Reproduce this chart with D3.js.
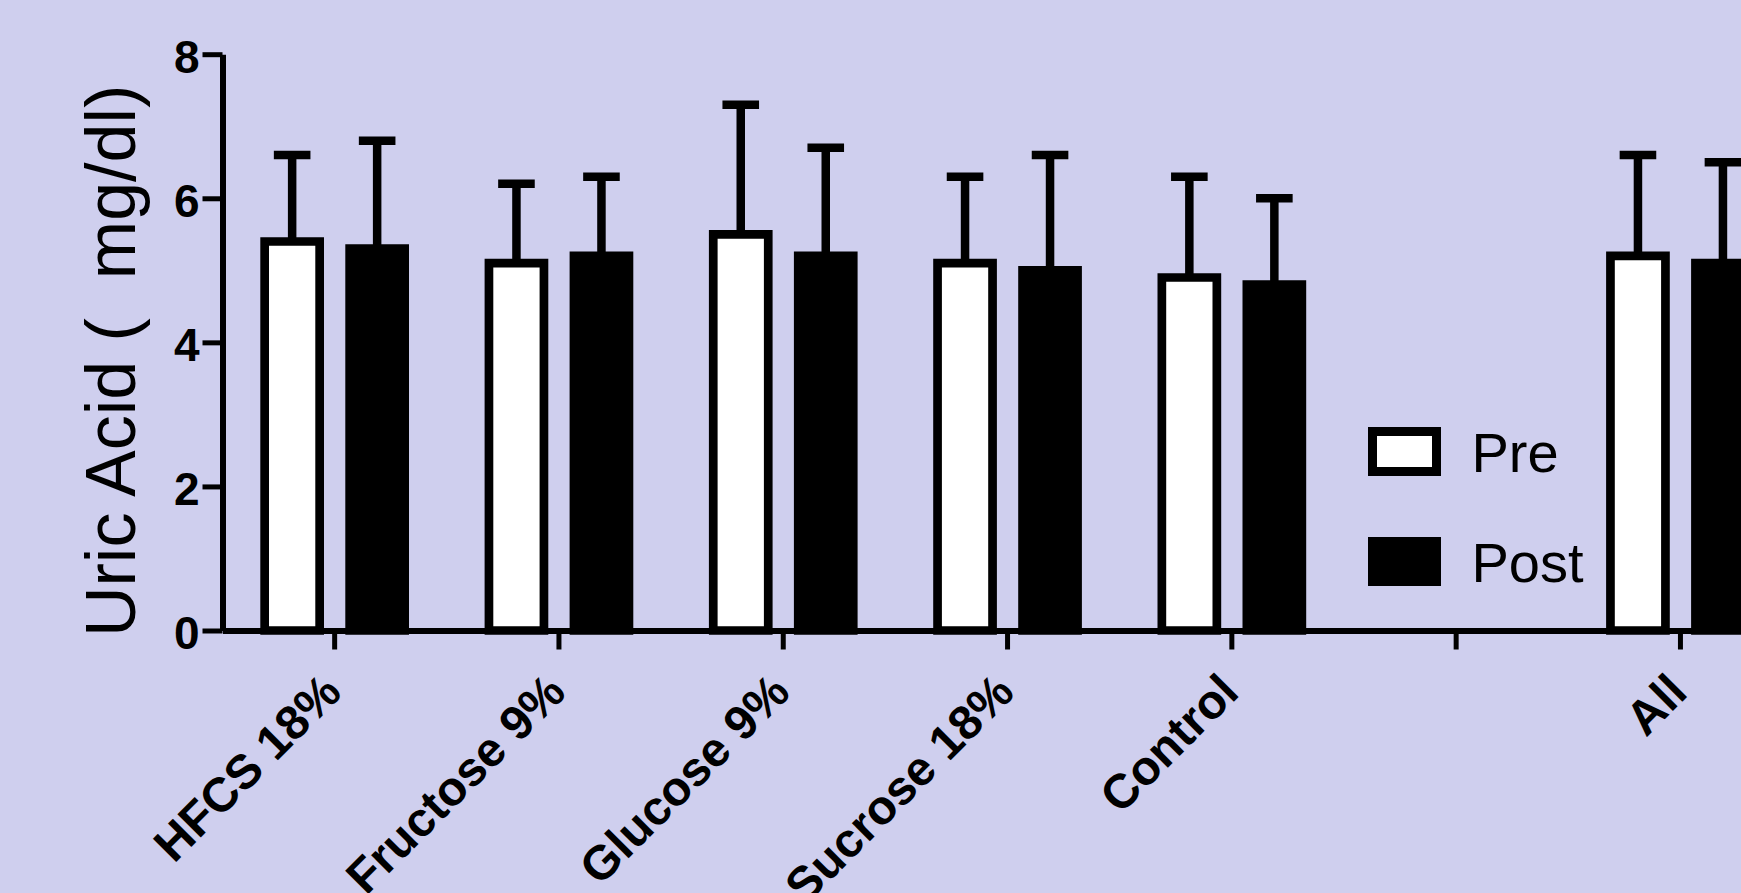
<!DOCTYPE html>
<html>
<head>
<meta charset="utf-8">
<script src="https://cdn.jsdelivr.net/npm/d3@7"></script>
<style>
  html, body { margin: 0; padding: 0; background: #cfcfee; }
  svg { display: block; font-family: "Liberation Sans", Arial, sans-serif; }
</style>
</head>
<body>
<svg id="graph"></svg>
<script>
const categories = ["HFCS 18%", "Fructose 9%", "Glucose 9%", "Sucrose 18%", "Control", "", "All"]
const series = ["Pre", "Post"]
const preMean = [5.4, 5.1, 5.5, 5.1, 4.9, null, 5.2]
const preSD = [1.2, 1.1, 1.8, 1.2, 1.4, null, 1.4]
const postMean = [5.3, 5.2, 5.2, 5.0, 4.8, null, 5.1]
const postSD = [1.5, 1.1, 1.5, 1.6, 1.2, null, 1.4]
const yTicks = [0, 2, 4, 6, 8]

const width = 1741
const height = 893
const bg = "#cfcfee"

const svg = d3.select("#graph")
  .attr("width", width)
  .attr("height", height)

svg.append("rect")
  .attr("width", width)
  .attr("height", height)
  .attr("fill", bg)

// the plot runs off the right edge of the picture, like the original
const xScale = d3.scaleBand().domain(categories).range([222.5, 222.5 + 7 * 224.3])
const xSub = d3.scaleBand().domain(series).range([-85, 85]).paddingInner(0.353).paddingOuter(0.1765)
const yScale = d3.scaleLinear().domain([0, 8]).range([630.5, 54.2])

const rows = []
categories.forEach((c, i) => {
  if (preMean[i] == null) return
  rows.push({cat: c, key: "Pre", mean: preMean[i], sd: preSD[i]})
  rows.push({cat: c, key: "Post", mean: postMean[i], sd: postSD[i]})
})

const cx = d => xScale(d.cat) + xScale.bandwidth() / 2 + xSub(d.key) + xSub.bandwidth() / 2
const bw = xSub.bandwidth()

// error bars (drawn first, bar top covers the stem end)
const err = svg.append("g").attr("stroke", "#000").attr("stroke-width", 8.5)
err.selectAll(".stem")
  .data(rows)
  .enter().append("line")
  .attr("x1", cx).attr("x2", cx)
  .attr("y1", d => yScale(d.mean))
  .attr("y2", d => yScale(d.mean + d.sd))
err.selectAll(".cap")
  .data(rows)
  .enter().append("line")
  .attr("x1", d => cx(d) - 18.3).attr("x2", d => cx(d) + 18.3)
  .attr("y1", d => yScale(d.mean + d.sd))
  .attr("y2", d => yScale(d.mean + d.sd))

// bars, open at the bottom
svg.append("g").selectAll(".bar")
  .data(rows)
  .enter().append("path")
  .attr("class", "bar")
  .attr("d", d => {
    const x0 = cx(d) - bw / 2, x1 = cx(d) + bw / 2
    return `M${x0},${yScale(0)}V${yScale(d.mean)}H${x1}V${yScale(0)}Z`
  })
  .attr("fill", d => d.key == "Pre" ? "#fff" : "#000")
  .attr("stroke", "#000")
  .attr("stroke-width", 8.7)

// axes
const xAxis = svg.append("g")
  .attr("transform", `translate(0, ${yScale(0)})`)
  .call(d3.axisBottom(xScale).tickSize(19).tickSizeOuter(0))
xAxis.select(".domain").attr("stroke-width", 6)
xAxis.selectAll(".tick line").attr("stroke-width", 5)
xAxis.selectAll(".tick text")
  .attr("y", 0).attr("dy", 0)
  .attr("transform", "translate(9, 64) rotate(-45)")
  .attr("text-anchor", "end")
  .attr("font-size", 48)
  .attr("font-weight", "bold")
  .attr("font-family", "Liberation Sans, Arial, sans-serif")
  .attr("fill", "#000")

const yAxis = svg.append("g")
  .attr("transform", "translate(222.5, 0)")
  .call(d3.axisLeft(yScale).tickValues(yTicks).tickFormat(d3.format("d")).tickSize(20).tickSizeOuter(0).tickPadding(3))
yAxis.select(".domain").attr("stroke-width", 6)
yAxis.selectAll(".tick line").attr("stroke-width", 5)
yAxis.selectAll(".tick text")
  .attr("dy", "0.39em")
  .attr("font-size", 46)
  .attr("font-weight", "bold")
  .attr("font-family", "Liberation Sans, Arial, sans-serif")
  .attr("fill", "#000")

svg.append("text")
  .attr("transform", "translate(135, 637) rotate(-90)")
  .attr("font-size", 70)
  .attr("fill", "#000")
  .style("white-space", "pre")
  .text("Uric Acid (  mg/dl)")

// legend
const legend = svg.append("g").selectAll(".legend")
  .data(series)
  .enter().append("g")
  .attr("transform", (d, i) => `translate(1372.5, ${431.5 + i * 110})`)
legend.append("rect")
  .attr("width", 64).attr("height", 40)
  .attr("fill", d => d == "Pre" ? "#fff" : "#000")
  .attr("stroke", "#000")
  .attr("stroke-width", 9)
legend.append("text")
  .attr("x", 99).attr("y", 40.5)
  .attr("font-size", 56)
  .attr("fill", "#000")
  .text(d => d)
</script>
</body>
</html>
